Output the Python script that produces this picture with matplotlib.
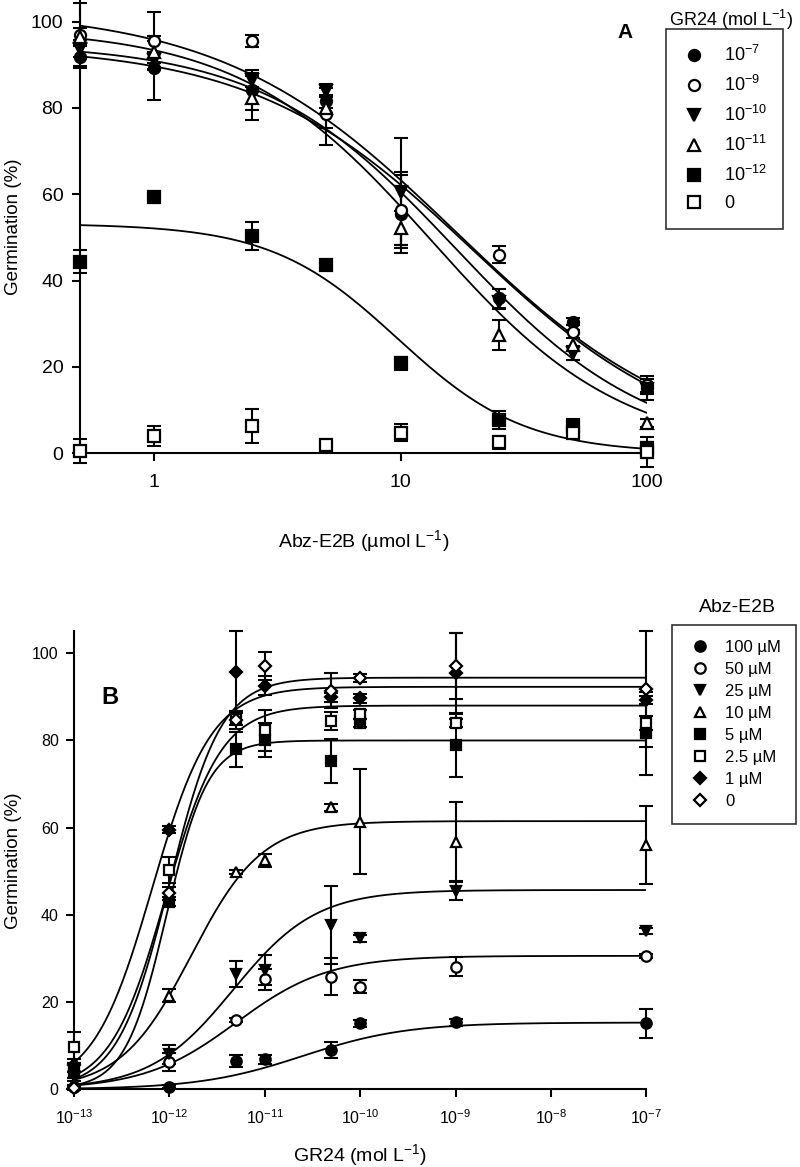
import numpy as np
import matplotlib
matplotlib.use("Agg")
import matplotlib.pyplot as plt

plt.rcParams['font.family'] = ['Liberation Sans', 'DejaVu Sans']
plt.rcParams['mathtext.fontset'] = 'custom'
plt.rcParams['mathtext.rm'] = 'Liberation Sans'
plt.rcParams['mathtext.it'] = 'Liberation Sans:italic'
plt.rcParams['mathtext.bf'] = 'Liberation Sans:bold'

# ---- panel A: germination vs Abz-E2B, one series per GR24 level
abz_conc = [0.5, 1, 2.5, 5, 10, 25, 50, 100]
gr24_labels = [r'10$^{-7}$', r'10$^{-9}$', r'10$^{-10}$', r'10$^{-11}$', r'10$^{-12}$', '0']

a_gr_1e7 = [91.8, 89.3, 84.2, 81.5, 55.5, 35.9, 30.5, 15.1]
a_gr_1e9 = [97.0, 95.6, 95.5, 78.5, 56.4, 46.0, 28.2, 15.8]
a_gr_1e10 = [93.7, 91.0, 86.5, 84.0, 60.6, 35.0, 23.2, 15.0]
a_gr_1e11 = [96.5, 93.0, 82.3, 80.0, 52.2, 27.4, 25.1, 7.0]
a_gr_1e12 = [44.4, 59.3, 50.3, 43.6, 20.9, 7.7, 6.2, 1.2]
a_gr_0 = [0.5, 3.9, 6.3, 1.8, 4.8, 2.5, 4.8, 0.3]

a_err_1e7 = [2.5, 7.4, 4.7, 1.5, 9.0, 2.2, 0.8, 2.8]
a_err_1e9 = [7.3, 6.7, 1.3, 7.0, 8.8, 2.0, 1.5, 1.5]
a_err_1e10 = [2.0, 2.0, 1.6, 1.4, 12.4, 1.5, 1.6, 1.2]
a_err_1e11 = [2.0, 2.5, 5.0, 4.7, 4.0, 3.5, 3.5, 1.0]
a_err_1e12 = [2.6, 0.8, 3.3, 0.8, 1.5, 2.1, 1.7, 1.5]
a_err_0 = [2.8, 2.3, 4.0, 0.8, 2.0, 1.4, 1.0, 3.4]

# fitted curves: top, log10(IC50), hill slope (None = no fit drawn)
a_fit_top = [94.5, 103.0, 95.0, 98.5, 53.2, None]
a_fit_logc = [1.29, 1.22, 1.222, 1.125, 0.987, None]
a_fit_hill = [0.98, 0.92, 1.10, 1.12, 1.69, None]

# ---- panel B: germination vs GR24, one series per Abz-E2B level
gr24_conc = [1e-13, 1e-12, 5e-12, 1e-11, 5e-11, 1e-10, 1e-9, 1e-7]
abz_labels = ['100 µM', '50 µM', '25 µM', '10 µM', '5 µM', '2.5 µM', '1 µM', '0']

b_abz_100 = [0.5, 0.6, 6.5, 6.9, 9.0, 15.1, 15.4, 15.1]
b_abz_50 = [0.5, 6.3, 15.9, 25.2, 25.8, 23.5, 28.1, 30.6]
b_abz_25 = [3.0, 8.0, 26.4, 27.4, 37.7, 34.6, 45.5, 36.4]
b_abz_10 = [1.5, 21.5, 49.9, 52.5, 64.7, 61.4, 56.8, 56.0]
b_abz_5 = [4.0, 43.0, 78.0, 80.1, 75.3, 84.0, 79.0, 81.6]
b_abz_2p5 = [9.6, 50.3, 85.0, 82.3, 84.5, 86.0, 84.0, 84.0]
b_abz_1 = [5.5, 59.5, 95.6, 92.6, 89.9, 89.7, 95.4, 89.3]
b_abz_0 = [0.3, 45.0, 84.7, 97.1, 91.4, 94.3, 97.1, 91.7]

b_err_100 = [0.5, 0.3, 1.3, 1.0, 1.8, 0.8, 0.8, 3.3]
b_err_50 = [0.5, 2.0, 0.5, 2.4, 4.2, 1.5, 2.2, 0.5]
b_err_25 = [1.0, 2.2, 3.0, 3.4, 9.0, 0.8, 2.0, 0.7]
b_err_10 = [1.0, 1.5, 0.5, 1.5, 0.8, 12.0, 9.0, 9.0]
b_err_5 = [2.0, 1.0, 4.0, 4.0, 5.0, 1.0, 7.3, 9.5]
b_err_2p5 = [3.6, 3.0, 1.5, 4.7, 2.0, 1.0, 1.0, 1.5]
b_err_1 = [1.5, 0.8, 9.4, 2.2, 1.0, 1.0, 9.3, 1.0]
b_err_0 = [0.5, 1.5, 2.0, 3.3, 4.0, 1.0, 7.6, 13.3]

b_fit_top = [15.3, 30.6, 45.7, 61.5, 80.0, 88.0, 92.3, 94.4]
b_fit_logc = [-10.6, -11.3, -11.33, -11.77, -12.03, -12.04, -12.18, -12.0]
b_fit_hill = [0.8, 0.9, 1.0, 1.17, 2.0, 1.5, 1.4, 1.6]

a_series = [a_gr_1e7, a_gr_1e9, a_gr_1e10, a_gr_1e11, a_gr_1e12, a_gr_0]
a_errors = [a_err_1e7, a_err_1e9, a_err_1e10, a_err_1e11, a_err_1e12, a_err_0]
b_series = [b_abz_100, b_abz_50, b_abz_25, b_abz_10, b_abz_5, b_abz_2p5, b_abz_1, b_abz_0]
b_errors = [b_err_100, b_err_50, b_err_25, b_err_10, b_err_5, b_err_2p5, b_err_1, b_err_0]

# marker styles
a_markers = ['o', 'o', 'v', '^', 's', 's']
a_fills = ['k', 'w', 'k', 'w', 'k', 'w']
b_markers = ['o', 'o', 'v', '^', 's', 's', 'D', 'D']
b_fills = ['k', 'w', 'k', 'w', 'k', 'w', 'k', 'w']


def decreasing(x, top, logc, hill):
    return top / (1 + 10 ** (hill * (np.log10(x) - logc)))


def increasing(x, top, logc, hill):
    return top / (1 + 10 ** (hill * (logc - np.log10(x))))


def draw_points(ax, x, y, e, marker, fill, label, ms):
    eb = ax.errorbar(x, y, yerr=e, fmt='none', ecolor='k', elinewidth=1.5,
                     capsize=5, capthick=1.5, zorder=2)
    for c in eb.lines[1]:
        c.set_clip_on(False)
    for c in eb.lines[2]:
        c.set_clip_on(False)
    size = ms * 0.85 if marker == 'D' else ms
    h, = ax.plot(x, y, ls='none', marker=marker, ms=size, mfc=fill, mec='k',
                 mew=1.6, zorder=4, clip_on=False, label=label)
    return h


def style_axes(ax, labelsize):
    for side in ['top', 'right']:
        ax.spines[side].set_visible(False)
    for side in ['left', 'bottom']:
        ax.spines[side].set_linewidth(1.5)
    ax.minorticks_off()
    ax.tick_params(which='both', direction='out', length=6, width=1.5,
                   labelsize=labelsize)


fig = plt.figure(figsize=(8, 11.67), dpi=100)
H = 1167.0

# ---------------- panel A
axA = fig.add_axes([0.1, 0.6116, 0.709, 0.3884])
axA.set_xscale('log')
handlesA = []
xs = np.logspace(np.log10(0.5), 2, 300)
for y, e, m, f, lab, top, lc, hl in zip(a_series, a_errors, a_markers, a_fills,
                                         gr24_labels, a_fit_top, a_fit_logc, a_fit_hill):
    if top is not None:
        axA.plot(xs, decreasing(xs, top, lc, hl), color='k', lw=1.3, zorder=3)
    handlesA.append(draw_points(axA, abz_conc, y, e, m, f, lab, 8))
axA.set_xlim(0.5, 100)
axA.set_ylim(0, 105)
style_axes(axA, 14)
axA.set_xticks([1, 10, 100])
axA.set_xticklabels(['1', '10', '100'])
axA.minorticks_off()
axA.set_yticks([0, 20, 40, 60, 80, 100])
axA.tick_params(axis='x', pad=9)
axA.tick_params(axis='y', pad=6)
axA.set_xlabel(r'Abz-E2B (µmol L$^{-1}$)', fontsize=14)
axA.xaxis.set_label_coords(0.5, -0.165)
axA.set_ylabel('Germination (%)', fontsize=13.5)
axA.yaxis.set_label_coords(-0.102, 0.5)
fig.text(625 / 800, 1 - 32 / H, 'A', fontsize=15, fontweight='bold', ha='center', va='center')
fig.text(731 / 800, 1 - 20 / H, r'GR24 (mol L$^{-1}$)', fontsize=13, ha='center', va='center')
legA = axA.legend(handles=handlesA, loc='upper left', bbox_to_anchor=(666 / 800, 1 - 29 / H),
                  bbox_transform=fig.transFigure, borderaxespad=0, frameon=True, fancybox=False,
                  edgecolor='k', fontsize=13, handlelength=1.3, handletextpad=1.0, borderpad=0.9,
                  labelspacing=0.55)
legA.get_frame().set_linewidth(1.2)

# ---------------- panel B
axB = fig.add_axes([0.0925, 0.0666, 0.7154, 0.3923])
axB.set_xscale('log')
handlesB = []
xs = np.logspace(-13, -7, 400)
for y, e, m, f, lab, top, lc, hl in zip(b_series, b_errors, b_markers, b_fills,
                                         abz_labels, b_fit_top, b_fit_logc, b_fit_hill):
    axB.plot(xs, increasing(xs, top, lc, hl), color='k', lw=1.3, zorder=3)
    handlesB.append(draw_points(axB, gr24_conc, y, e, m, f, lab, 7.5))
axB.set_xlim(1e-13, 1e-7)
axB.set_ylim(0, 105)
style_axes(axB, 11.5)
decades = list(range(-13, -6))
axB.set_xticks([10.0 ** d for d in decades])
axB.set_xticklabels([r'10$^{%d}$' % d for d in decades])
axB.minorticks_off()
axB.set_yticks([0, 20, 40, 60, 80, 100])
axB.tick_params(axis='x', pad=8)
axB.tick_params(axis='y', pad=5)
axB.set_xlabel(r'GR24 (mol L$^{-1}$)', fontsize=14)
axB.xaxis.set_label_coords(0.5, -0.115)
axB.set_ylabel('Germination (%)', fontsize=13.5)
axB.yaxis.set_label_coords(-0.091, 0.5)
fig.text(110 / 800, 1 - 698 / H, 'B', fontsize=17, fontweight='bold', ha='center', va='center')
fig.text(737 / 800, 1 - 608 / H, 'Abz-E2B', fontsize=14, ha='center', va='center')
legB = axB.legend(handles=handlesB, loc='upper left', bbox_to_anchor=(672 / 800, 1 - 625 / H),
                  bbox_transform=fig.transFigure, borderaxespad=0, frameon=True, fancybox=False,
                  edgecolor='k', fontsize=12, handlelength=1.5, handletextpad=0.8, borderpad=0.9,
                  labelspacing=0.42)
legB.get_frame().set_linewidth(1.2)

fig.savefig('out.png', dpi=100)
